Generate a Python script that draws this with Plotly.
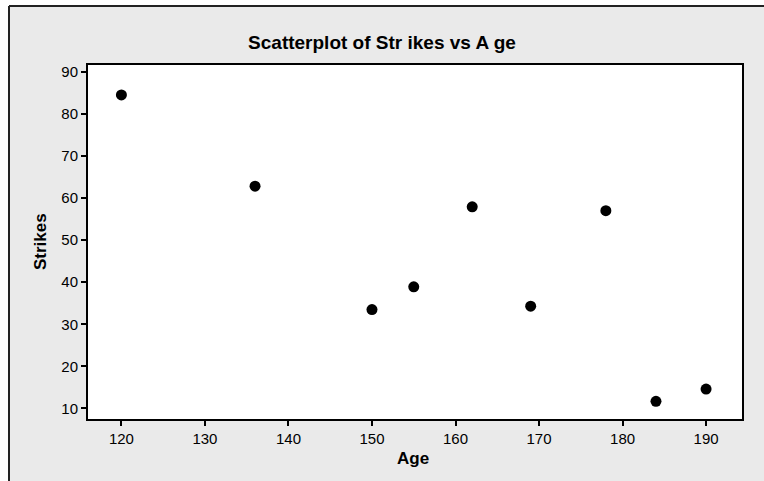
import plotly.graph_objects as go

# Data
age = [120, 136, 150, 155, 162, 169, 178, 184, 190]
strikes = [84.5, 62.8, 33.5, 38.9, 57.9, 34.3, 57.0, 11.7, 14.6]
x_ticks = [120, 130, 140, 150, 160, 170, 180, 190]
y_ticks = [10, 20, 30, 40, 50, 60, 70, 80, 90]

title_text = "Scatterplot of Str ikes vs A ge"
x_title = "Age"
y_title = "Strikes"

W, H = 764, 481
L, R, T, B = 88, 22, 65, 62
pw, ph = W - L - R, H - T - B

def px_to_paper_x(px):
    return (px - L) / pw

def px_to_paper_y(py):
    return (H - B - py) / ph

FONT = "Tahoma, 'Liberation Sans', Arial, sans-serif"

fig = go.Figure()
fig.add_trace(go.Scatter(
    x=age, y=strikes, mode="markers",
    marker=dict(color="black", size=11, symbol="circle"),
    showlegend=False, hoverinfo="x+y",
))

axis_common = dict(
    showgrid=False, zeroline=False, showline=True, linecolor="black",
    linewidth=2, mirror=True, ticks="outside", ticklen=5, tickwidth=2,
    tickcolor="black", tickfont=dict(family=FONT, size=15, color="black"),
)

fig.update_layout(
    width=W, height=H,
    margin=dict(l=L, r=R, t=T, b=B, autoexpand=False),
    paper_bgcolor="#EAEAEA",
    plot_bgcolor="white",
    title=dict(text="<b>" + title_text + "</b>", x=0.5, xref="container", xanchor="center",
               y=1 - 42 / H, yref="container", yanchor="middle",
               font=dict(family=FONT, size=19, color="black")),
    xaxis=dict(range=[116.0, 194.3], tickvals=x_ticks, **axis_common),
    yaxis=dict(range=[7.5, 91.6], tickvals=y_ticks, **axis_common),
)

# Outer frame (Minitab style): white margin strips outside a dark frame line
fx, fy = px_to_paper_x(9), px_to_paper_y(6)
far_l, far_r = px_to_paper_x(-20), px_to_paper_x(W + 20)
far_t, far_b = px_to_paper_y(-20), px_to_paper_y(H + 20)
fig.add_shape(type="rect", xref="paper", yref="paper", x0=far_l, x1=far_r, y0=fy, y1=far_t,
              fillcolor="white", line=dict(width=0), layer="above")
fig.add_shape(type="rect", xref="paper", yref="paper", x0=far_l, x1=fx, y0=far_b, y1=far_t,
              fillcolor="white", line=dict(width=0), layer="above")
fig.add_shape(type="line", xref="paper", yref="paper", x0=fx, x1=far_r, y0=fy, y1=fy,
              line=dict(color="#222222", width=2), layer="above")
fig.add_shape(type="line", xref="paper", yref="paper", x0=fx, x1=fx, y0=far_b, y1=fy,
              line=dict(color="#222222", width=2), layer="above")

fig.add_annotation(text="<b>" + x_title + "</b>", xref="paper", yref="paper",
                   x=px_to_paper_x(413), y=px_to_paper_y(458), showarrow=False,
                   xanchor="center", yanchor="middle",
                   font=dict(family=FONT, size=17, color="black"))
fig.add_annotation(text="<b>" + y_title + "</b>", xref="paper", yref="paper",
                   x=px_to_paper_x(40), y=px_to_paper_y(242), showarrow=False,
                   xanchor="center", yanchor="middle", textangle=-90,
                   font=dict(family=FONT, size=17, color="black"))

fig.write_html("out.html", config={"displayModeBar": False},
               post_script="document.body.style.margin='0px';document.body.style.overflow='hidden';")
